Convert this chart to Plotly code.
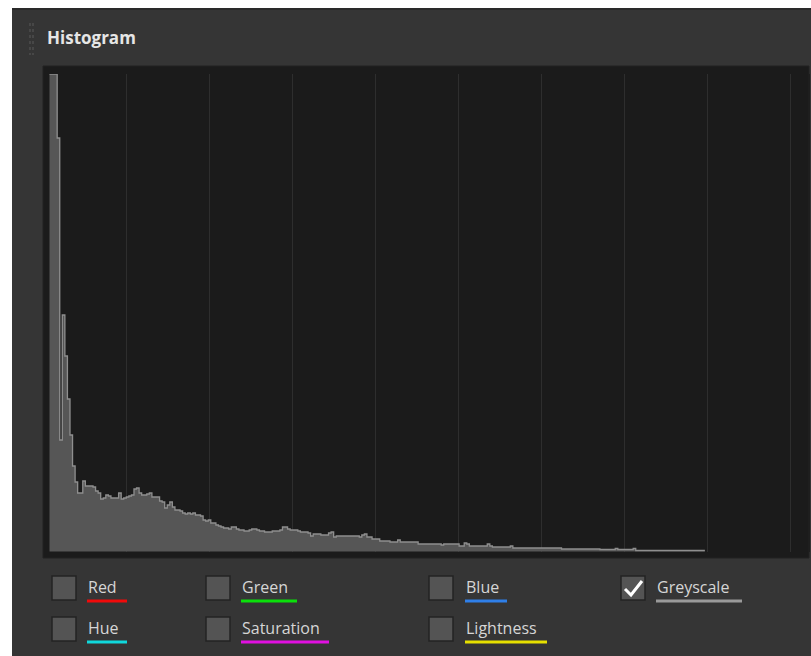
import plotly.graph_objects as go

# histogram heights per grey level (0..255)
counts = [
    477.5, 477.5, 477.5, 413.5, 111.5, 236.5, 195.5, 152.5, 116.5, 85.5, 69.5, 58.5, 58.5, 70.5, 65.5, 65.5,
    65.5, 64.5, 60.5, 58.5, 52.5, 53.5, 56.5, 55.5, 53.5, 53.5, 53.5, 58.5, 52.5, 53.5, 54.5, 55.5,
    56.5, 62.5, 63.5, 58.5, 56.5, 56.5, 57.5, 58.5, 54.5, 54.5, 54.5, 50.5, 49.5, 43.5, 46.5, 49.5,
    44.5, 41.5, 41.5, 40.5, 38.5, 37.5, 38.5, 37.5, 38.5, 36.5, 36.5, 35.5, 31.5, 30.5, 31.5, 28.5,
    28.5, 26.5, 25.5, 24.5, 23.5, 23.5, 22.5, 24.5, 24.5, 22.5, 21.5, 21.5, 20.5, 20.5, 21.5, 22.5,
    22.5, 21.5, 20.5, 20.5, 19.5, 19.5, 19.5, 20.5, 20.5, 20.5, 21.5, 24.5, 24.5, 22.5, 21.5, 21.5,
    21.5, 20.5, 19.5, 19.5, 19.5, 18.5, 15.5, 17.5, 17.5, 17.5, 16.5, 16.5, 16.5, 18.5, 19.5, 14.5,
    15.5, 15.5, 15.5, 15.5, 15.5, 15.5, 15.5, 15.5, 15.5, 14.5, 16.5, 17.5, 14.5, 14.5, 12.5, 12.5,
    12.5, 10.5, 10.5, 10.5, 10.5, 9.5, 9.5, 9.5, 11.5, 9.5, 9.5, 9.5, 9.5, 9.5, 9.5, 9.5,
    7.5, 7.5, 7.5, 7.5, 7.5, 7.5, 7.5, 7.5, 7.5, 6.5, 7.5, 7.5, 7.5, 7.5, 7.5, 7.5,
    5.5, 5.5, 8.5, 7.5, 5.5, 5.5, 5.5, 5.5, 5.5, 5.5, 5.5, 7.5, 5.5, 4.5, 4.5, 4.5,
    4.5, 4.5, 4.5, 4.5, 5.5, 3.5, 3.5, 3.5, 3.5, 3.5, 3.5, 3.5, 3.5, 3.5, 3.5, 3.5,
    3.5, 3.5, 3.5, 3.5, 3.5, 3.5, 3.5, 3.5, 2.5, 2.5, 2.5, 2.5, 2.5, 2.5, 2.5, 2.5,
    2.5, 2.5, 2.5, 2.5, 2.5, 2.5, 2.5, 2.0, 2.0, 2.0, 2.0, 2.0, 2.0, 3.0, 2.0, 2.0,
    2.0, 2.0, 2.0, 2.0, 3.0, 1.0, 1.0, 1.0, 1.0, 1.0, 1.0, 1.0, 1.0, 1.0, 1.0, 1.0,
    1.0, 1.0, 1.0, 1.0, 1.0, 1.0, 1.0, 1.0, 1.0, 1.0, 1.0, 1.0, 1.0, 1.0, 1.0, 1.0,
]
bin_edges = list(range(len(counts) + 1))

channels = ["Red", "Green", "Blue", "Greyscale", "Hue", "Saturation", "Lightness"]
channel_colors = ["#f00a0a", "#0be00b", "#2f7fe8", "#9a9a9a", "#10d8dc", "#e010e0", "#e6e000"]
checked = ["Greyscale"]

# --- page geometry (pixels) ---
W, H = 811, 656
L, R, T, B = 49, 1, 74, 104
BIN_PX = 2.56        # width of one grey level
X0_PX = 49.5         # left edge of level 0
GRID_PX = 83.0       # spacing of the vertical guide lines
plot_w = W - L - R
plot_h = H - T - B


def px(p):
    return (p - L) / plot_w


def py(p):
    return (H - B - p) / plot_h


fig = go.Figure()

fig.add_trace(go.Scatter(
    x=bin_edges,
    y=counts + [counts[-1]],
    mode="lines",
    line=dict(shape="hv", color="#8f8f8f", width=1.3),
    fill="tozeroy",
    fillcolor="#565656",
    hoverinfo="skip",
    showlegend=False,
))

shapes = []
# panel chrome
shapes.append(dict(type="rect", xref="paper", yref="paper", x0=px(0), x1=px(W), y0=py(0), y1=py(8),
                   fillcolor="white", line_width=0, layer="below"))
shapes.append(dict(type="rect", xref="paper", yref="paper", x0=px(0), x1=px(12), y0=py(0), y1=py(H),
                   fillcolor="white", line_width=0, layer="below"))
shapes.append(dict(type="line", xref="paper", yref="paper", x0=px(12), x1=px(W), y0=py(9), y1=py(9),
                   line=dict(color="#2a2a2a", width=2), layer="below"))
# dark chart well
shapes.append(dict(type="rect", xref="paper", yref="paper", x0=px(43), x1=px(809), y0=py(558), y1=py(66),
                   fillcolor="#1b1b1b", line=dict(color="#232323", width=1), layer="below"))
# header grip
for gx in (30, 33):
    shapes.append(dict(type="line", xref="paper", yref="paper", x0=px(gx), x1=px(gx), y0=py(23), y1=py(55),
                       line=dict(color="#5a5a5a", width=1, dash="dot")))

annotations = [dict(text="<b>Histogram</b>", xref="paper", yref="paper", x=px(45), y=py(38),
                    xanchor="left", yanchor="middle", showarrow=False,
                    font=dict(family="Open Sans", size=17, color="#e6e6e6"))]

# channel toggles: (checkbox left, label left, underline right, row centre)
col_box = [52, 206, 429, 621, 52, 206, 429]
col_text = [87, 241, 465, 656, 87, 241, 465]
line_end = [127, 297, 507, 742, 127, 329, 547]
row_mid = [588, 588, 588, 588, 629, 629, 629]
for name, color, bx, tx, lx, ry in zip(channels, channel_colors, col_box, col_text, line_end, row_mid):
    shapes.append(dict(type="rect", xref="paper", yref="paper", x0=px(bx), x1=px(bx + 24),
                       y0=py(ry + 12), y1=py(ry - 12),
                       fillcolor="#545454", line=dict(color="#232323", width=1.5)))
    shapes.append(dict(type="rect", xref="paper", yref="paper", x0=px(tx), x1=px(lx),
                       y0=py(ry + 14.5), y1=py(ry + 11.5), fillcolor=color, line_width=0))
    annotations.append(dict(text=name, xref="paper", yref="paper", x=px(tx - 1), y=py(ry - 1),
                            xanchor="left", yanchor="middle", showarrow=False,
                            font=dict(family="Open Sans", size=16, color="#d6d6d6")))
    if name in checked:
        shapes.append(dict(type="path", xref="paper", yref="paper",
                           path=f"M {px(bx + 4)} {py(ry + 1)} L {px(bx + 10)} {py(ry + 7)} L {px(bx + 21)} {py(ry - 7)}",
                           line=dict(color="white", width=3)))

fig.update_layout(
    width=W,
    height=H,
    autosize=False,
    margin=dict(l=L, r=R, t=T, b=B, pad=0),
    paper_bgcolor="#353535",
    plot_bgcolor="#1b1b1b",
    showlegend=False,
    shapes=shapes,
    annotations=annotations,
    xaxis=dict(
        range=[(L - X0_PX) / BIN_PX, (W - R - X0_PX) / BIN_PX],
        showgrid=True, gridcolor="#2e2e2e", gridwidth=1,
        tickmode="linear", tick0=(126.3 - X0_PX) / BIN_PX, dtick=GRID_PX / BIN_PX,
        showticklabels=False, ticks="", zeroline=False, showline=False, fixedrange=True,
    ),
    yaxis=dict(
        range=[-0.5, 477.5],
        showgrid=False, showticklabels=False, ticks="", zeroline=False, showline=False, fixedrange=True,
    ),
)

fig.write_html("out.html", config={"displayModeBar": False},
               post_script="document.body.style.margin='0';")
